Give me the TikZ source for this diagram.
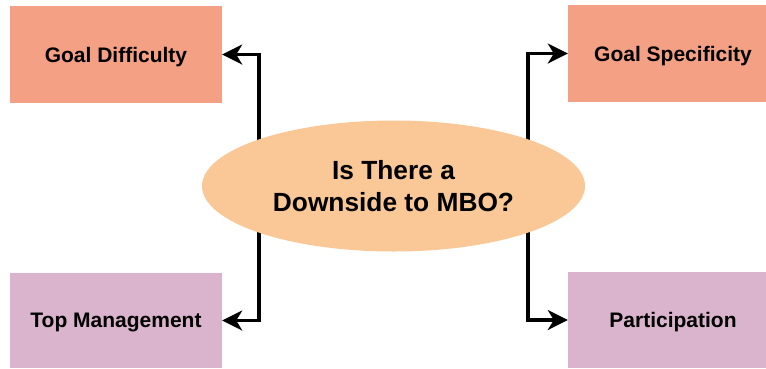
\documentclass[tikz,border=0pt]{standalone}
\usepackage{fontspec}
\setmainfont{Liberation Sans}
\usetikzlibrary{arrows.meta,backgrounds,shapes.geometric}
\definecolor{salmon}{HTML}{F4A085}
\definecolor{mauve}{HTML}{DAB4CC}
\definecolor{peach}{HTML}{F9C896}
\tikzset{
  box/.style={rectangle, inner sep=0pt, text depth=0pt,
    font=\bfseries\fontsize{21}{25}\selectfont},
  topbox/.style={box, fill=salmon},
  lowbox/.style={box, fill=mauve},
  hub/.style={ellipse, fill=peach, inner sep=0pt, align=center,
    font=\bfseries\fontsize{26.3}{32}\selectfont},
  link/.style={line width=3.3pt, -{Stealth[length=20pt,width=20pt,inset=6pt]}}
}
\begin{document}
\begin{tikzpicture}[x=1pt, y=-1pt]
  \useasboundingbox (0,0) rectangle (766,368);
  % four outcome boxes
  \node[topbox, minimum width=212pt, minimum height=97pt] (gd) at (116,54.5) {Goal Difficulty};
  \node[topbox, minimum width=210pt, minimum height=97pt] (gs) at (673,53.5) {Goal Specificity};
  \node[lowbox, minimum width=212pt, minimum height=95pt] (tm) at (116,320.5) {Top Management};
  \node[lowbox, minimum width=210pt, minimum height=96pt] (pa) at (673,320) {Participation};
  % central question
  \node[hub, minimum width=383pt, minimum height=131pt] (q) at (393.5,186)
    {Is There a\\Downside to MBO?};
  % branch points hidden behind the ellipse
  \coordinate (jl) at (259,184.5);
  \coordinate (jr) at (528,184.5);
  \begin{scope}[on background layer]
    \draw[link] (jl) |- (gd.east);
    \draw[link] (jl) |- (tm.east);
    \draw[link] (jr) |- (gs.west);
    \draw[link] (jr) |- (pa.west);
  \end{scope}
\end{tikzpicture}
\end{document}
